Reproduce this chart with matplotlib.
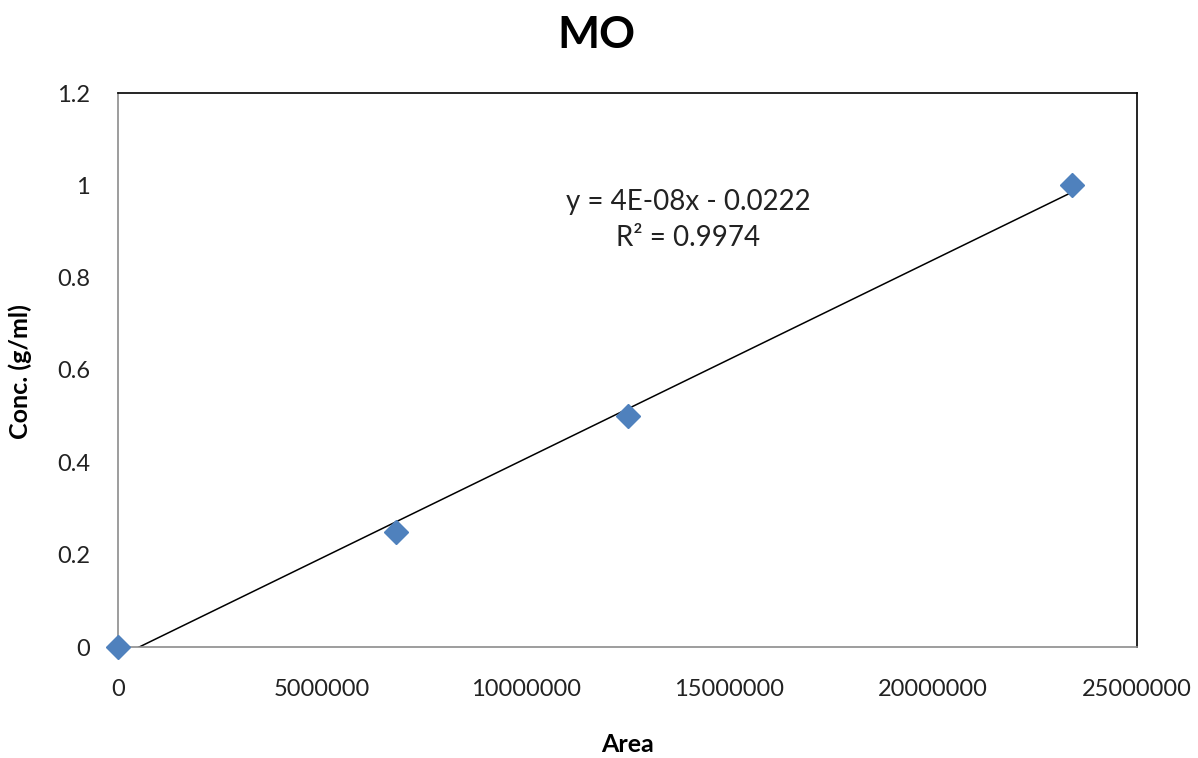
import numpy as np
import matplotlib
matplotlib.use("Agg")
import matplotlib.pyplot as plt

plt.rcParams['font.family'] = ['Lato', 'DejaVu Sans']

area = [0, 6820000, 12510000, 23410000]
conc = [0, 0.25, 0.5, 1.0]
eq_text = "y = 4E-08x - 0.0222\nR² = 0.9974"
xticks = [0, 5000000, 10000000, 15000000, 20000000, 25000000]
yticks = [0, 0.2, 0.4, 0.6, 0.8, 1, 1.2]

fig = plt.figure(figsize=(11.98, 7.58), dpi=100)
ax = fig.add_axes([118/1198, 1-647/758, (1137-118)/1198, (647-93)/758])

slope, intercept = np.polyfit(area, conc, 1)
xs = np.array([min(area), max(area)])
ax.plot(xs, slope*xs + intercept, color='black', lw=1.1, zorder=2)
ax.plot(area, conc, linestyle='none', marker='D', markersize=12.5,
        color='#4F81BD', markeredgecolor='#4F81BD', zorder=3, clip_on=False)

ax.set_xlim(0, 25000000)
ax.set_ylim(0, 1.2)
ax.set_xticks(xticks)
ax.set_xticklabels([str(v) for v in xticks])
ax.set_yticks(yticks)
ax.set_yticklabels(['0', '0.2', '0.4', '0.6', '0.8', '1', '1.2'])
ax.tick_params(length=0, labelsize=17, colors='#222222')
ax.tick_params(axis='x', pad=23)
ax.tick_params(axis='y', pad=20)
for s in ['left', 'bottom']:
    ax.spines[s].set_color('#8c8c8c')
    ax.spines[s].set_linewidth(1.2)
for s in ['top', 'right']:
    ax.spines[s].set_color('black')
    ax.spines[s].set_linewidth(1.2)

ax.text(688/1198, 1-220/758, eq_text, transform=fig.transFigure, ha='center',
        va='center', fontsize=20, color='#222222', linespacing=1.5)

fig.text(596/1198, 1-35/758, "MO", ha='center', va='center', fontsize=32,
         fontweight='bold', color='black')
fig.text(628/1198, 1-745/758, "Area", ha='center', va='center', fontsize=18,
         fontweight='bold', color='black')
fig.text(20/1198, 1-372/758, "Conc. (g/ml)", ha='center', va='center',
         fontsize=18, fontweight='bold', rotation=90, color='black')

fig.savefig("out.png", dpi=100, facecolor='white')
